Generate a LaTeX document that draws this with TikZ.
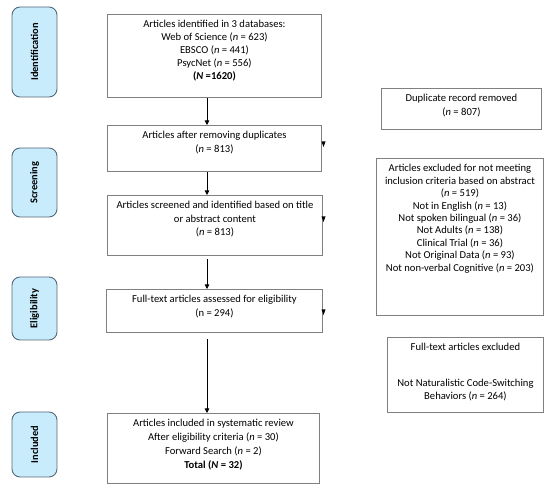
\documentclass[tikz,border=0pt]{standalone}
\usepackage{fontspec}
\setmainfont{Carlito}
\usetikzlibrary{arrows.meta}
\definecolor{pillfill}{HTML}{C8ECFB}
\definecolor{pilldraw}{HTML}{56687A}
\definecolor{boxgray}{HTML}{808080}
\newcommand\bxt[4]{\parbox[c][#2pt][t]{#1pt}{\centering\fontsize{10.6pt}{#3pt}\selectfont\rule{0pt}{13.5pt}#4\par}}
\newcommand\nn{\textit{n}}
\tikzset{
  box/.style={draw=boxgray, line width=0.9pt, inner sep=0pt, anchor=north west},
  pill/.style={draw=pilldraw, fill=pillfill, line width=0.9pt, rounded corners=8pt},
  pilltext/.style={rotate=90, font=\fontsize{10.4pt}{12pt}\selectfont\bfseries, inner sep=0pt},
  flow/.style={draw=black, line width=0.8pt, -{Triangle[length=4.5pt,width=4.5pt]}},
  tip/.style={fill=black}
}
\begin{document}
\begin{tikzpicture}[x=1pt,y=-1pt]
\useasboundingbox (0,0) rectangle (550,489);
% phase pills
\draw[pill] (12,7) rectangle (57,97);
\node[pilltext] (p1) at (34.5,52) {Identification};
\draw[pill] (12,148) rectangle (57,217);
\node[pilltext] (p2) at (34.5,182.5) {Screening};
\draw[pill] (12,277) rectangle (57,340);
\node[pilltext] (p3) at (34.5,308.5) {Eligibility};
\draw[pill] (12,412) rectangle (57,477);
\node[pilltext] (p4) at (34.5,444.5) {Included};
% main column
\node[box] (b1) at (107,14) {\bxt{214}{83}{13}{Articles identified in 3 databases:\\Web of Science (\nn{} = 623)\\EBSCO (\nn{} = 441)\\PsycNet (\nn{} = 556)\\\textbf{(\textit{N} =1620)}}};
\node[box] (b2) at (107,125) {\bxt{214}{46}{14}{Articles after removing duplicates\\(\nn{} = 813)}};
\node[box] (b3) at (107,195) {\bxt{215}{60}{13.5}{Articles screened and identified based on title\\or abstract content\\(\nn{} = 813)}};
\node[box] (b4) at (106,289) {\bxt{216}{43}{14}{Full-text articles assessed for eligibility\\(n = 294)}};
\node[box] (b5) at (107,413) {\bxt{212}{70}{14}{Articles included in systematic review\\After eligibility criteria (\nn{} = 30)\\Forward Search (\nn{} = 2)\\\textbf{Total (\textit{N} = 32)}}};
% right column
\node[box] (d1) at (381,88) {\bxt{160}{41}{14}{\rule{0pt}{2pt}Duplicate record removed\\(\nn{} = 807)}};
\node[box] (e1) at (376,158) {\bxt{167}{157}{12.4}{Articles excluded for not meeting\\inclusion criteria based on abstract\\(\nn{} = 519)\\Not in English (\nn{} = 13)\\Not spoken bilingual (\nn{} = 36)\\Not Adults (\nn{} = 138)\\Clinical Trial (\nn{} = 36)\\Not Original Data (\nn{} = 93)\\Not non-verbal Cognitive (\nn{} = 203)}};
\node[box] (f1) at (387,337) {\bxt{156}{75}{13.5}{Full-text articles excluded\\[22pt]Not Naturalistic Code-Switching\\Behaviors (\nn{} = 264)}};
% flow arrows
\coordinate (ax) at (207,0);
\draw[flow] (b1.south -| ax) -- (b2.north -| ax);
\draw[flow] (b2.south -| ax) -- (b3.north -| ax);
\draw[flow] ([yshift=-3pt]b3.south -| ax) -- (b4.north -| ax);
\draw[flow] ([yshift=-6pt]b4.south -| ax) -- (b5.north -| ax);
% small stray arrowheads at right edges
\fill[tip] (321.5,141.5) -- (325.5,141.5) -- (323.5,147) -- cycle;
\fill[tip] (321.5,216.5) -- (325.5,216.5) -- (323.5,222) -- cycle;
\fill[tip] (321.5,309.5) -- (325.5,309.5) -- (323.5,315) -- cycle;
\end{tikzpicture}
\end{document}
